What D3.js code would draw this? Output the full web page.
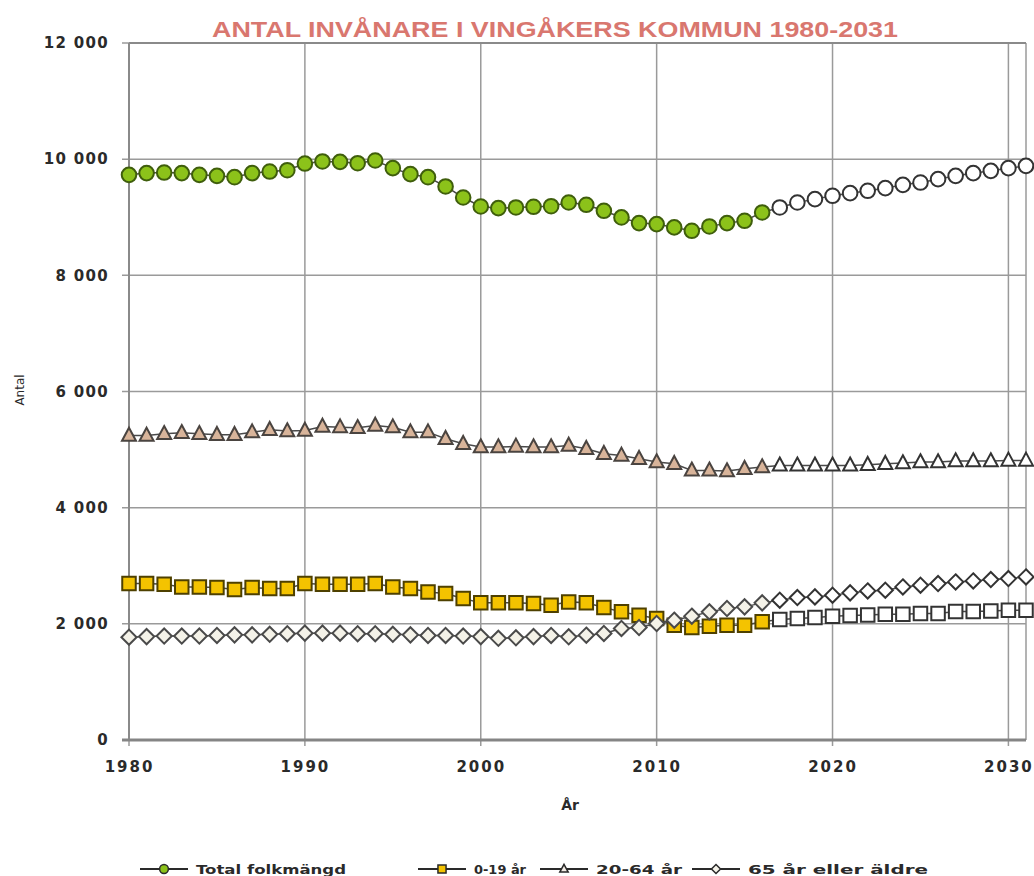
<!DOCTYPE html>
<html>
<head>
<meta charset="utf-8">
<script src="https://cdn.jsdelivr.net/npm/d3@7"></script>
<style>
  html, body { margin: 0; padding: 0; background: #fff; }
  svg { display: block; }
</style>
</head>
<body>
<svg id="chart" width="1034" height="876"></svg>
<script>
// ---- DATA ----
const years = d3.range(1980, 2032); // 1980..2031
const lastHistoricYear = 2016;

const total = [9730, 9760, 9770, 9760, 9730, 9713, 9690, 9760, 9787, 9810,
  9925, 9960, 9953, 9930, 9977, 9845, 9742, 9690, 9530, 9340,
  9185, 9157, 9169, 9180, 9190, 9254, 9214, 9111, 8997, 8899,
  8882, 8825, 8767, 8842, 8899, 8939, 9083,
  9169, 9254, 9312, 9369, 9415, 9455, 9501, 9558, 9598, 9656, 9713, 9759, 9799, 9845, 9885];

const age0_19 = [2693, 2693, 2682, 2636, 2636, 2624, 2590, 2624, 2607, 2607,
  2693, 2682, 2682, 2682, 2693, 2636, 2607, 2550, 2521, 2435,
  2361, 2361, 2361, 2349, 2321, 2378, 2361, 2281, 2206, 2149,
  2092, 1977, 1937, 1960, 1977, 1977, 2034,
  2075, 2092, 2109, 2132, 2143, 2154, 2166, 2166, 2178, 2178, 2212, 2212, 2223, 2235, 2235];

const age20_64 = [5243, 5243, 5272, 5289, 5272, 5255, 5255, 5300, 5341, 5318,
  5329, 5398, 5386, 5375, 5415, 5386, 5300, 5300, 5186, 5100,
  5043, 5043, 5054, 5043, 5043, 5071, 5014, 4928, 4899, 4842,
  4785, 4756, 4642, 4642, 4630, 4670, 4699,
  4728, 4728, 4728, 4728, 4728, 4739, 4756, 4768, 4785, 4785, 4802, 4802, 4802, 4813, 4813];

const age65plus = [1770, 1780, 1790, 1790, 1790, 1800, 1810, 1810, 1820, 1830,
  1840, 1840, 1840, 1830, 1830, 1820, 1810, 1800, 1800, 1790,
  1780, 1750, 1760, 1780, 1800, 1776, 1805, 1834, 1920, 1937,
  2006, 2063, 2132, 2206, 2264, 2292, 2361,
  2407, 2453, 2464, 2493, 2533, 2567, 2579, 2636, 2665, 2693, 2722, 2739, 2762, 2779, 2808];

const yTicks = [0, 2000, 4000, 6000, 8000, 10000, 12000];
const xTicks = [1980, 1990, 2000, 2010, 2020, 2030];
const seriesNames = ["Total folkmängd", "0-19 år", "20-64 år", "65 år eller äldre"];
const titleText = "ANTAL INVÅNARE I VINGÅKERS KOMMUN 1980-2031";
const xTitle = "År";
const yTitle = "Antal";

// ---- STYLE ----
const styles = [
  { shape: "circle",   fill: "#8cc21a", stroke: "#3f5e0c" },
  { shape: "square",   fill: "#f4c300", stroke: "#4e4000" },
  { shape: "triangle", fill: "#d8b49a", stroke: "#4a4440" },
  { shape: "diamond",  fill: "#f4f2e8", stroke: "#4a4a4a" }
];
const seriesData = [total, age0_19, age20_64, age65plus];

const svg = d3.select("#chart");
const pLeft = 129, pRight = 1026, pTop = 43, pBottom = 740;

const x = d3.scaleLinear().domain([1980, 2031]).range([pLeft, pRight]);
const y = d3.scaleLinear().domain([0, 12000]).range([pBottom, pTop]);

// Title
svg.append("text")
  .attr("x", 555).attr("y", 37)
  .attr("text-anchor", "middle")
  .attr("font-family", "'Liberation Sans Narrow', 'Liberation Sans', Arial, sans-serif")
  .attr("font-weight", "bold")
  .attr("font-size", 22)
  .attr("fill", "#d9776f")
  .attr("textLength", 686)
  .attr("lengthAdjust", "spacingAndGlyphs")
  .text(titleText);

// Gridlines
const grid = svg.append("g");
grid.selectAll("line.h").data(yTicks.filter(d => d > 0)).join("line")
  .attr("x1", pLeft - 7).attr("x2", pRight)
  .attr("y1", d => y(d)).attr("y2", d => y(d))
  .attr("stroke", "#9a9a9a").attr("stroke-width", 1.5);
grid.selectAll("line.v").data(xTicks).join("line")
  .attr("x1", d => x(d)).attr("x2", d => x(d))
  .attr("y1", pTop).attr("y2", pBottom + 6)
  .attr("stroke", "#9a9a9a").attr("stroke-width", 1.5);
grid.append("line").attr("x1", pRight).attr("x2", pRight).attr("y1", pTop).attr("y2", pBottom)
  .attr("stroke", "#9a9a9a").attr("stroke-width", 1.5);
grid.append("line").attr("x1", pLeft).attr("x2", pRight).attr("y1", pTop).attr("y2", pTop)
  .attr("stroke", "#8a8a8a").attr("stroke-width", 2);
grid.append("line").attr("x1", pLeft).attr("x2", pLeft).attr("y1", pTop).attr("y2", pBottom)
  .attr("stroke", "#8a8a8a").attr("stroke-width", 2);
grid.append("line").attr("x1", pLeft - 7).attr("x2", pRight).attr("y1", y(0)).attr("y2", y(0))
  .attr("stroke", "#858585").attr("stroke-width", 3);

// Axes labels via d3 axes
const yAxis = d3.axisLeft(y).tickValues(yTicks).tickSize(0).tickPadding(20)
  .tickFormat(d => d3.format(",")(d).replace(/,/g, " "));
const gy = svg.append("g").attr("transform", `translate(${pLeft},0)`).call(yAxis);
gy.select(".domain").remove();
gy.selectAll("text")
  .attr("font-family", "'DejaVu Sans', Verdana, sans-serif")
  .attr("font-weight", "bold")
  .attr("font-size", 15)
  .attr("letter-spacing", "1.3px")
  .attr("fill", "#2a2a2a");

const xAxis = d3.axisBottom(x).tickValues(xTicks).tickSize(0).tickPadding(21).tickFormat(d3.format("d"));
const gx = svg.append("g").attr("transform", `translate(0,${pBottom})`).call(xAxis);
gx.select(".domain").remove();
gx.selectAll("text")
  .attr("font-family", "'DejaVu Sans', Verdana, sans-serif")
  .attr("font-weight", "bold")
  .attr("font-size", 15)
  .attr("letter-spacing", "2px")
  .attr("fill", "#2a2a2a");

svg.append("text").attr("x", 570).attr("y", 810).attr("text-anchor", "middle")
  .attr("font-family", "'DejaVu Sans', sans-serif").attr("font-weight", "bold")
  .attr("font-size", 14).attr("fill", "#2a2a2a").text(xTitle);
svg.append("text").attr("transform", "translate(24,390) rotate(-90)").attr("text-anchor", "middle")
  .attr("font-family", "'DejaVu Sans', sans-serif")
  .attr("font-size", 12).attr("fill", "#2a2a2a").text(yTitle);

// Marker path generator
function markerPath(shape, scale) {
  const s = scale || 1;
  if (shape === "circle") return d3.symbol(d3.symbolCircle, Math.PI * Math.pow(7.3 * s, 2))();
  if (shape === "square") return d3.symbol(d3.symbolSquare, Math.pow(13.5 * s, 2))();
  if (shape === "triangle") {
    const w = 14 * s, h = 13 * s;
    return `M0,${-h * 0.6}L${w / 2},${h * 0.4}L${-w / 2},${h * 0.4}Z`;
  }
  if (shape === "diamond") {
    const r = 7.6 * s;
    return `M0,${-r}L${r},0L0,${r}L${-r},0Z`;
  }
}

const lineGen = d3.line().x(d => x(d.year)).y(d => y(d.value));
const plot = svg.append("g");

seriesData.forEach((vals, i) => {
  const pts = years.map((yr, j) => ({ year: yr, value: vals[j] }));
  const st = styles[i];
  plot.append("path").datum(pts)
    .attr("d", lineGen)
    .attr("fill", "none")
    .attr("stroke", "#4a4a4a")
    .attr("stroke-width", 1.5);
  plot.append("g").selectAll("path").data(pts).join("path")
    .attr("transform", d => `translate(${x(d.year)},${y(d.value)})`)
    .attr("d", markerPath(st.shape))
    .attr("fill", d => d.year <= lastHistoricYear ? st.fill : "#ffffff")
    .attr("stroke", d => d.year <= lastHistoricYear ? st.stroke : "#333333")
    .attr("stroke-width", 2);
});

// Legend
const legendX = [140, 418, 540, 692];
const legendTextW = [150, 52, 86, 180];
const legend = svg.append("g").attr("transform", "translate(0,869)");
seriesNames.forEach((name, i) => {
  const g = legend.append("g").attr("transform", `translate(${legendX[i]},0)`);
  g.append("line").attr("x1", 0).attr("x2", 48).attr("y1", 0).attr("y2", 0)
    .attr("stroke", "#2a2a2a").attr("stroke-width", 2);
  g.append("path").attr("transform", "translate(24,0)")
    .attr("d", markerPath(styles[i].shape, 0.6))
    .attr("fill", i === 2 ? "#f4ede6" : styles[i].fill).attr("stroke", "#2a2a2a").attr("stroke-width", 1.5);
  g.append("text").attr("x", 56).attr("y", 5)
    .attr("font-family", "'DejaVu Sans', sans-serif").attr("font-weight", "bold")
    .attr("font-size", 12.5).attr("fill", "#2a2a2a")
    .attr("textLength", legendTextW[i]).attr("lengthAdjust", "spacingAndGlyphs")
    .text(name);
});
</script>
</body>
</html>
